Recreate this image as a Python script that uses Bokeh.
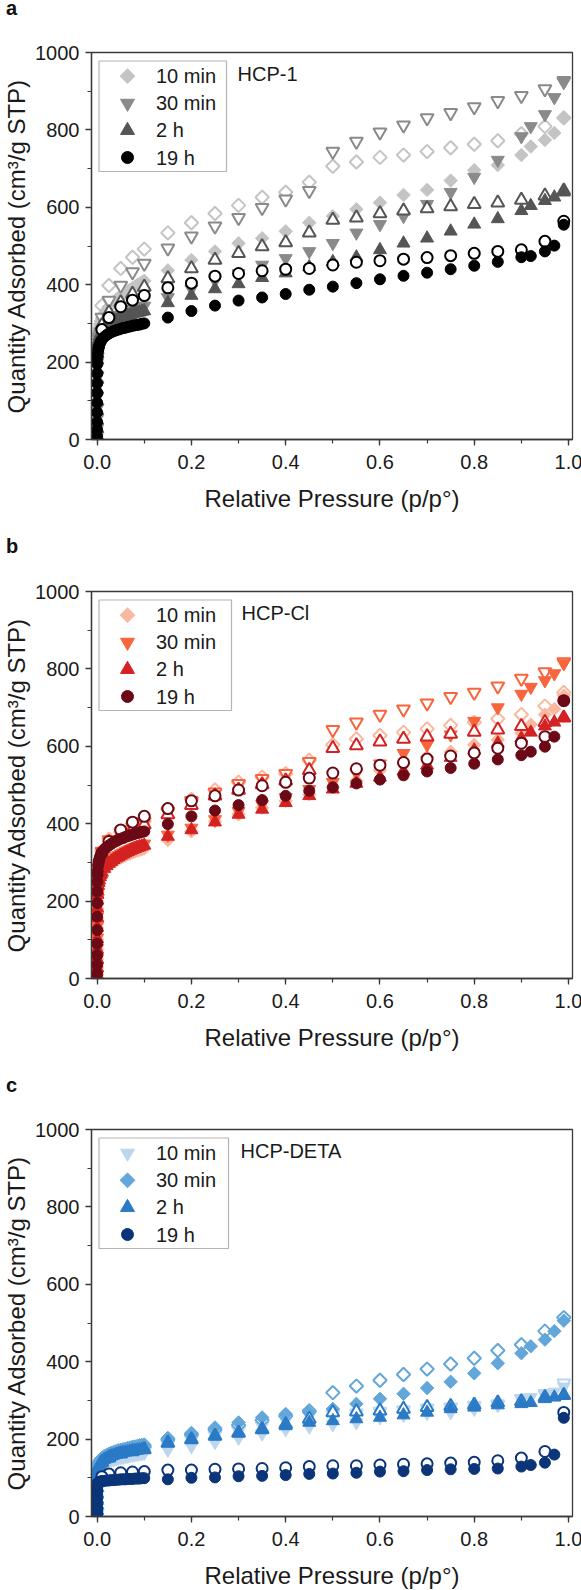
import numpy as np
from bokeh.plotting import figure
from bokeh.models import Range1d, Label, SingleIntervalTicker, PrintfTickFormatter, Div
from bokeh.layouts import column
from bokeh.embed import file_html
from bokeh.resources import INLINE

# ---------------- data ----------------
P_LOW = [1e-6, 3e-6, 1e-5, 2e-5, 4e-5, 7e-5, 1e-4, 2e-4, 4e-4, 7e-4,
         0.001, 0.002, 0.003, 0.004, 0.006, 0.008,
         0.01, 0.015, 0.02, 0.025, 0.03, 0.035, 0.04, 0.045, 0.05, 0.055,
         0.06, 0.065, 0.07, 0.075, 0.08, 0.085, 0.09, 0.095, 0.1]
P_ADS = [0.15, 0.2, 0.25, 0.3, 0.35, 0.4, 0.45, 0.5, 0.55, 0.6, 0.65, 0.7,
         0.75, 0.8, 0.85, 0.9, 0.92, 0.95, 0.97, 0.99]
P_DES = [0.99, 0.95, 0.9, 0.85, 0.8, 0.75, 0.7, 0.65, 0.6, 0.55, 0.5, 0.45,
         0.4, 0.35, 0.3, 0.25, 0.2, 0.15, 0.1, 0.075, 0.05, 0.025, 0.01]

SERIES_LABELS = ["10 min", "30 min", "2 h", "19 h"]

# Panel a: HCP-1
A10_LOW = [15, 35, 60, 90, 120, 150, 175, 205, 230, 245, 255, 270, 280, 288, 298, 306,
           313, 325, 335, 343, 350, 356, 361, 366, 371, 375, 379, 383, 387, 391, 395, 399, 402, 406, 410]
A10_ADS = [437, 464, 486, 507, 520, 538, 560, 577, 595, 612, 632, 645, 669, 696, 709, 735, 757, 774, 792, 831]
A10_DES = [831, 809, 790, 772, 763, 754, 744, 735, 729, 717, 706, 665, 639, 626, 605, 584, 560, 534, 492, 471, 442, 398, 346]
A30_LOW = [12, 30, 55, 80, 110, 140, 165, 190, 215, 232, 240, 252, 260, 266, 273, 278,
           280, 290, 298, 303, 308, 312, 316, 319, 322, 325, 328, 331, 333, 335, 337, 339, 341, 343, 345]
A30_ADS = [367, 389, 411, 429, 451, 468, 486, 507, 534, 556, 577, 608, 639, 678, 722, 783, 809, 840, 884, 923]
A30_DES = [927, 906, 888, 875, 859, 844, 831, 812, 794, 770, 744, 643, 621, 599, 573, 551, 525, 494, 455, 433, 398, 359, 315]
A2_LOW = [10, 28, 50, 75, 100, 130, 155, 180, 205, 222, 232, 245, 253, 259, 267, 273,
          277, 286, 292, 297, 301, 305, 308, 311, 314, 316, 318, 320, 322, 324, 326, 328, 329, 331, 332]
A2_ADS = [353, 372, 389, 402, 418, 430, 446, 459, 471, 490, 507, 520, 538, 556, 570, 591, 604, 617, 626, 639]
A2_DES = [643, 630, 619, 612, 608, 602, 597, 591, 584, 573, 567, 534, 509, 499, 481, 464, 442, 416, 394, 376, 354, 328, 295]
A19_LOW = [8, 25, 45, 70, 95, 120, 145, 170, 195, 210, 218, 230, 237, 242, 249, 254,
           258, 265, 270, 274, 277, 280, 282, 284, 286, 288, 289, 291, 292, 294, 295, 296, 297, 299, 300]
A19_ADS = [315, 332, 346, 359, 367, 376, 387, 395, 404, 414, 423, 431, 440, 449, 459, 471, 474, 486, 501, 555]
A19_DES = [564, 512, 490, 486, 481, 475, 470, 466, 462, 458, 451, 442, 440, 436, 429, 422, 404, 392, 372, 360, 343, 315, 284]

# Panel b: HCP-Cl
B10_LOW = [10, 28, 50, 75, 100, 130, 155, 180, 200, 215, 225, 238, 246, 252, 260, 266,
           271, 280, 287, 293, 298, 302, 306, 309, 312, 315, 318, 321, 323, 326, 328, 330, 332, 334, 336]
B10_ADS = [358, 380, 406, 424, 441, 459, 476, 494, 511, 538, 555, 573, 586, 604, 617, 634, 656, 682, 696, 731]
B10_DES = [739, 704, 682, 671, 662, 654, 645, 636, 628, 619, 604, 564, 529, 520, 507, 487, 463, 437, 406, 392, 378, 360, 330]
B30_LOW = [10, 30, 52, 78, 105, 135, 160, 185, 205, 220, 230, 243, 252, 258, 267, 273,
           278, 288, 295, 301, 306, 311, 315, 318, 322, 325, 328, 331, 334, 337, 339, 342, 344, 346, 348]
B30_ADS = [371, 389, 411, 432, 450, 468, 489, 507, 531, 555, 582, 604, 630, 665, 700, 735, 753, 770, 788, 814]
B30_DES = [818, 792, 775, 755, 739, 728, 711, 696, 682, 662, 643, 560, 529, 516, 503, 481, 459, 432, 406, 392, 378, 358, 328]
B2_LOW = [9, 27, 50, 75, 102, 132, 157, 182, 202, 217, 227, 240, 248, 254, 263, 269,
          274, 284, 291, 297, 302, 307, 311, 314, 318, 321, 324, 327, 330, 333, 335, 338, 340, 342, 344]
B2_ADS = [367, 384, 404, 424, 437, 454, 472, 489, 504, 520, 536, 551, 571, 590, 608, 621, 636, 652, 662, 674]
B2_DES = [674, 662, 652, 643, 637, 632, 625, 619, 612, 602, 595, 538, 511, 501, 487, 472, 448, 424, 397, 385, 372, 352, 322]
B19_LOW = [12, 35, 60, 90, 125, 160, 195, 225, 250, 268, 278, 292, 300, 306, 314, 320,
           324, 333, 339, 344, 348, 352, 355, 358, 361, 363, 366, 368, 370, 372, 374, 376, 377, 379, 380]
B19_ADS = [399, 419, 434, 448, 461, 472, 485, 494, 504, 514, 525, 535, 544, 555, 566, 577, 586, 599, 625, 718]
B19_DES = [718, 625, 608, 595, 583, 575, 567, 558, 551, 542, 531, 518, 507, 498, 487, 472, 459, 439, 419, 404, 384, 354, 325]

# Panel c: HCP-DETA
C10_LOW = [5, 15, 28, 42, 58, 72, 85, 95, 103, 108, 112, 118, 122, 125, 129, 132,
           134, 138, 141, 144, 146, 148, 150, 151, 153, 154, 155, 156, 158, 159, 160, 161, 162, 163, 164]
C10_ADS = [172, 181, 192, 203, 214, 225, 232, 238, 243, 256, 262, 267, 269, 278, 287, 304, 308, 313, 322, 335]
C10_DES = [344, 317, 304, 291, 287, 282, 280, 275, 271, 267, 265, 262, 250, 235, 222, 210, 198, 185, 170, 165, 160, 152, 140]
C30_LOW = [6, 18, 32, 48, 65, 80, 95, 105, 114, 120, 125, 132, 137, 140, 145, 148,
           151, 156, 159, 162, 165, 167, 169, 171, 172, 174, 175, 177, 178, 180, 181, 182, 184, 185, 186]
C30_ADS = [203, 216, 230, 243, 256, 265, 269, 278, 291, 304, 317, 332, 348, 370, 396, 422, 440, 457, 479, 506]
C30_DES = [514, 479, 444, 429, 409, 394, 381, 367, 352, 337, 320, 273, 260, 249, 236, 225, 212, 199, 181, 177, 170, 160, 148]
C2_LOW = [5, 16, 30, 45, 60, 75, 88, 98, 106, 112, 117, 124, 128, 131, 136, 139,
          142, 147, 150, 153, 156, 158, 160, 162, 163, 165, 166, 167, 168, 169, 170, 171, 172, 173, 174]
C2_ADS = [190, 199, 208, 216, 225, 234, 243, 247, 252, 256, 262, 269, 278, 282, 288, 291, 294, 304, 308, 313]
C2_DES = [313, 308, 297, 294, 288, 285, 282, 278, 273, 271, 269, 252, 238, 225, 216, 208, 199, 190, 173, 168, 162, 152, 140]
C19_LOW = [4, 12, 22, 34, 46, 58, 68, 75, 80, 83, 85, 87, 88, 89, 90, 91,
           91, 92, 93, 93, 94, 94, 95, 95, 96, 96, 96, 97, 97, 97, 98, 98, 98, 99, 99]
C19_ADS = [96, 100, 101, 104, 105, 107, 110, 111, 113, 116, 117, 120, 122, 123, 124, 129, 133, 139, 160, 255]
C19_DES = [269, 168, 151, 144, 140, 138, 136, 135, 133, 131, 131, 129, 126, 124, 123, 122, 120, 120, 116, 115, 113, 110, 103]

COLORS_A = ["#c4c4c4", "#8a8a8a", "#555555", "#000000"]
COLORS_B = ["#f9b9a0", "#f8643c", "#d42222", "#6b0a16"]
COLORS_C = ["#bcd6ee", "#62a6da", "#2a7ac6", "#0b3578"]
MARKERS_AB = ["diamond", "down", "up", "circle"]
MARKERS_C = ["down", "diamond", "up", "circle"]

# ---------------- style ----------------
FONT = "Liberation Sans"
AXIS_COLOR = "#3a3a3a"
TEXT_COLOR = "#1a1a1a"
X_START, X_END = -0.012, 1.0085
FRAME_W, FRAME_H = 481, 387
LETTER_H = 22

MARKER_SPEC = {
    "diamond": ("square", 9.5, np.pi / 4, 10.5),
    "down": ("inverted_triangle", 13, 0.0, 14),
    "up": ("triangle", 13, 0.0, 14),
    "circle": ("circle", 11, 0.0, 12),
}


def dx2x(dx):
    return X_START + dx * (X_END - X_START) / FRAME_W


def dy2y(dy):
    return 1000 - dy * 1000.0 / FRAME_H


def letter_div(letter):
    return Div(text='<span style="display:inline-block;margin-left:6px">%s</span>' % letter,
               width=60, height=LETTER_H, margin=0,
               styles={"font-family": FONT, "font-size": "20px", "font-weight": "bold",
                       "line-height": "16px", "color": "#111111"})


def make_panel(name, colors, markers, lows, adss, dess, top, bottom, legend_right, name_dx):
    p = figure(frame_width=FRAME_W, frame_height=FRAME_H,
               x_range=Range1d(X_START, X_END), y_range=Range1d(0, 1000),
               output_backend="svg", toolbar_location=None,
               min_border_left=90, min_border_right=10,
               min_border_top=top, min_border_bottom=bottom,
               background_fill_color="white", border_fill_color="white")
    p.xgrid.visible = False
    p.ygrid.visible = False
    p.outline_line_color = AXIS_COLOR
    p.outline_line_width = 1.3

    p.xaxis.ticker = SingleIntervalTicker(interval=0.2, num_minor_ticks=2)
    p.yaxis.ticker = SingleIntervalTicker(interval=200, num_minor_ticks=2)
    p.xaxis.formatter = PrintfTickFormatter(format="%.1f")
    p.xaxis.axis_label = "Relative Pressure (p/p°)"
    p.yaxis.axis_label = "Quantity Adsorbed (cm³/g STP)"
    for ax in (p.xaxis[0], p.yaxis[0]):
        ax.axis_line_color = AXIS_COLOR
        ax.axis_line_width = 1.3
        ax.major_tick_line_color = AXIS_COLOR
        ax.minor_tick_line_color = AXIS_COLOR
        ax.major_tick_line_width = 1.3
        ax.minor_tick_line_width = 1.2
        ax.major_tick_out = 6
        ax.major_tick_in = 0
        ax.minor_tick_out = 4
        ax.minor_tick_in = 0
        ax.major_label_text_font = FONT
        ax.major_label_text_font_size = "20px"
        ax.major_label_text_color = TEXT_COLOR
        ax.axis_label_text_font = FONT
        ax.axis_label_text_font_size = "24px"
        ax.axis_label_text_font_style = "normal"
        ax.axis_label_text_color = TEXT_COLOR
    p.xaxis.major_label_standoff = 9
    p.yaxis.major_label_standoff = 6
    p.xaxis.axis_label_standoff = 13
    p.yaxis.axis_label_standoff = 2

    # legend box
    p.quad(left=[dx2x(7.5)], right=[dx2x(legend_right)], top=[dy2y(8.5)], bottom=[dy2y(119)],
           fill_color="white", line_color="#b4b4b4", line_width=1.2)

    for color, mk, low, ads, des in zip(colors, markers, lows, adss, dess):
        m, sz, ang, _ = MARKER_SPEC[mk]
        p.scatter(P_DES, des, marker=m, size=sz, angle=ang,
                  fill_color="white", line_color=color, line_width=2)
        p.scatter(P_LOW + P_ADS, low + ads, marker=m, size=sz, angle=ang,
                  fill_color=color, line_color=color, line_width=1)

    for i, (label, color, mk) in enumerate(zip(SERIES_LABELS, colors, markers)):
        m, _, ang, lsz = MARKER_SPEC[mk]
        yy = dy2y(23.7 + 27.1 * i)
        p.scatter([dx2x(36)], [yy], marker=m, size=lsz, angle=ang,
                  fill_color=color, line_color=color)
        p.add_layout(Label(x=dx2x(64.5), y=yy, text=label, text_baseline="middle",
                           text_align="left", text_font=FONT, text_font_size="20px",
                           text_color=TEXT_COLOR))

    p.add_layout(Label(x=dx2x(name_dx), y=dy2y(21.5), text=name, text_baseline="middle",
                       text_align="left", text_font=FONT, text_font_size="20px",
                       text_color=TEXT_COLOR))
    return p


pa = make_panel("HCP-1", COLORS_A, MARKERS_AB,
                [A10_LOW, A30_LOW, A2_LOW, A19_LOW], [A10_ADS, A30_ADS, A2_ADS, A19_ADS],
                [A10_DES, A30_DES, A2_DES, A19_DES], 52 - LETTER_H, 99, 135, 146)
pb = make_panel("HCP-Cl", COLORS_B, MARKERS_AB,
                [B10_LOW, B30_LOW, B2_LOW, B19_LOW], [B10_ADS, B30_ADS, B2_ADS, B19_ADS],
                [B10_DES, B30_DES, B2_DES, B19_DES], 53 - LETTER_H, 99, 140, 150)
pc = make_panel("HCP-DETA", COLORS_C, MARKERS_C,
                [C10_LOW, C30_LOW, C2_LOW, C19_LOW], [C10_ADS, C30_ADS, C2_ADS, C19_ADS],
                [C10_DES, C30_DES, C2_DES, C19_DES], 52 - LETTER_H, 74, 137, 149)

layout = column(letter_div("a"), pa, letter_div("b"), pb, letter_div("c"), pc, spacing=0)
open("out.html", "w").write(file_html(layout, INLINE))
